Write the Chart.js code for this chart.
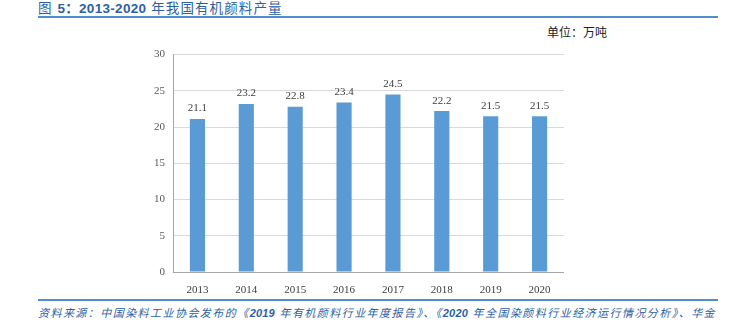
<!DOCTYPE html>
<html>
<head>
<meta charset="utf-8">
<script src="https://cdn.jsdelivr.net/npm/chart.js@4/dist/chart.umd.min.js"></script>
<style>
  html, body { margin: 0; padding: 0; background: #fff; }
  body { width: 731px; height: 334px; position: relative; overflow: hidden; }
  .title {
    position: absolute; left: 38px; top: 0px;
    font-family: "Liberation Sans", "Noto Sans CJK SC", sans-serif;
    font-size: 13.5px; color: #2e5fa3; white-space: nowrap; line-height: 17px;
    letter-spacing: 1.1px;
  }
  .title b { font-weight: 600; letter-spacing: 0.3px; }
  .rule { position: absolute; left: 38px; width: 680px; height: 2px; background: #4f8fcf; }
  .unit {
    position: absolute; left: 547px; top: 23px;
    font-family: "Noto Sans CJK SC", sans-serif; font-size: 12px; color: #222;
  }
  .source {
    position: absolute; left: 38px; top: 305px;
    font-family: "Liberation Sans", "Noto Sans CJK SC", sans-serif; font-size: 11px; font-style: italic;
    color: #2e5fa3; white-space: nowrap; line-height: 27px; letter-spacing: 1.45px;
  }
  .source b { font-weight: 600; letter-spacing: 0.2px; }
  #wrap { position: absolute; left: 120px; top: 40px; width: 444px; height: 254px; }
</style>
</head>
<body>
<div class="title">图 <b>5：2013-2020</b> 年我国有机颜料产量</div>
<div class="rule" style="top:16px"></div>
<div class="unit">单位：万吨</div>
<div id="wrap"><canvas id="chart"></canvas></div>
<div class="rule" style="top:299px"></div>
<div class="source" style="top:300px">资料来源：中国染料工业协会发布的《<b>2019</b> 年有机颜料行业年度报告》、《<b>2020</b> 年全国染颜料行业经济运行情况分析》、华金<br>证券研究所</div>

<script>
// 年份与产量（万吨）
const years = ["2013", "2014", "2015", "2016", "2017", "2018", "2019", "2020"];
const output = [21.1, 23.2, 22.8, 23.4, 24.5, 22.2, 21.5, 21.5];
const yTicks = [0, 5, 10, 15, 20, 25, 30];

// 柱顶数值标签
const barValueLabels = {
  id: "barValueLabels",
  afterDatasetsDraw(chart) {
    const ctx = chart.ctx;
    const meta = chart.getDatasetMeta(0);
    ctx.save();
    ctx.font = "11px 'Liberation Serif', serif";
    ctx.fillStyle = "#404040";
    ctx.textAlign = "center";
    ctx.textBaseline = "bottom";
    meta.data.forEach((bar, i) => {
      ctx.fillText(output[i].toFixed(1), bar.x, bar.y - 5);
    });
    ctx.restore();
  },
};

const serif = { family: "'Liberation Serif', serif", size: 11 };

new Chart(document.getElementById("chart"), {
  type: "bar",
  data: {
    labels: years,
    datasets: [{
      data: output,
      backgroundColor: "#5b9bd5",
      borderWidth: 0,
      categoryPercentage: 1,
      barPercentage: 0.31,
    }],
  },
  options: {
    responsive: true,
    maintainAspectRatio: false,
    animation: false,
    layout: { padding: { top: 13, right: 0, left: 0, bottom: 0 } },
    plugins: { legend: { display: false }, tooltip: { enabled: false } },
    scales: {
      x: {
        grid: { display: false },
        border: { display: true, color: "#a6a6a6", width: 1 },
        ticks: { color: "#404040", font: serif, padding: 4 },
        afterFit(scale) { scale.height = 22; },
      },
      y: {
        min: 0,
        max: 30,
        afterBuildTicks(scale) { scale.ticks = yTicks.map(v => ({ value: v })); },
        grid: { color: "#d9d9d9", drawTicks: false },
        border: { display: true, color: "#a6a6a6", width: 1 },
        ticks: { color: "#595959", font: serif, padding: 8 },
        afterFit(scale) { scale.width = 53; },
      },
    },
  },
  plugins: [barValueLabels],
});
</script>
</body>
</html>
